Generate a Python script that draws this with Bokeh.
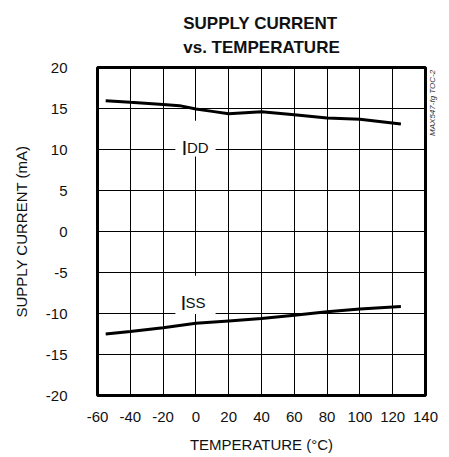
from bokeh.plotting import figure
from bokeh.models import Range1d, FixedTicker, Label, BoxAnnotation, LinearAxis
from bokeh.embed import file_html
from bokeh.resources import INLINE

# ---- data ----
temp_idd = [-55, -40, -20, -10, 0, 10, 20, 40, 60, 80, 100, 125]
idd_ma = [15.95, 15.75, 15.5, 15.35, 14.95, 14.65, 14.35, 14.6, 14.25, 13.85, 13.7, 13.1]
temp_iss = [-55, -40, -20, 0, 20, 40, 60, 80, 100, 125]
iss_ma = [-12.5, -12.2, -11.75, -11.2, -10.9, -10.6, -10.2, -9.8, -9.45, -9.15]
x_ticks = [-60, -40, -20, 0, 20, 40, 60, 80, 100, 120, 140]
y_ticks = [-20, -15, -10, -5, 0, 5, 10, 15, 20]

FONT = "Liberation Sans"
INK = "#111111"

p = figure(width=449, height=457, output_backend="svg", toolbar_location=None,
           x_range=Range1d(-60, 140), y_range=Range1d(-20, 20),
           min_border_left=97, min_border_right=24, min_border_top=67, min_border_bottom=62)
p.background_fill_color = "white"
p.border_fill_color = "white"
p.outline_line_color = "black"
p.outline_line_width = 3

# two-line title
p.title.text = "SUPPLY CURRENT\nvs. TEMPERATURE"
p.title.align = "center"
p.title.vertical_align = "top"
p.title.text_font = FONT
p.title.text_font_size = "17px"
p.title.text_font_style = "bold"
p.title.text_color = INK
p.title.text_line_height = 1.27
p.title.standoff = 18

for ax in (p.xaxis, p.yaxis):
    ax.major_tick_line_color = None
    ax.minor_tick_line_color = None
    ax.axis_line_color = None
    ax.major_label_text_font = FONT
    ax.major_label_text_font_size = "15px"
    ax.major_label_text_color = INK
    ax.axis_label_text_font = FONT
    ax.axis_label_text_font_size = "15px"
    ax.axis_label_text_font_style = "normal"
    ax.axis_label_text_color = INK

p.xaxis.ticker = FixedTicker(ticks=x_ticks)
p.yaxis.ticker = FixedTicker(ticks=y_ticks)
p.xaxis.major_label_overrides = {t: str(t) for t in x_ticks}
p.yaxis.major_label_overrides = {t: str(t) for t in y_ticks}
p.xaxis.major_label_standoff = 10
p.yaxis.major_label_standoff = 24
p.yaxis.axis_label = "SUPPLY CURRENT (mA)"
p.yaxis.axis_label_standoff = 13
p.xaxis.axis_label = "TEMPERATURE (°C)"
p.xaxis.axis_label_standoff = 11

# side note as label of a bare right axis (padded to sit near the top)
note_text = "\u00a0" * 43 + "MAX547-fg TOC-2"
note_axis = LinearAxis(ticker=FixedTicker(ticks=[]), axis_line_color=None,
                       major_tick_line_color=None, minor_tick_line_color=None,
                       major_label_text_font_size="0px",
                       axis_label=note_text, axis_label_text_font=FONT,
                       axis_label_text_font_size="8px", axis_label_text_color="#333333",
                       axis_label_standoff=7, axis_label_orientation=1.5708)
p.add_layout(note_axis, "right")

p.xgrid.ticker = FixedTicker(ticks=x_ticks)
p.ygrid.ticker = FixedTicker(ticks=y_ticks)
for g in (p.xgrid, p.ygrid):
    g.grid_line_color = "black"
    g.grid_line_alpha = 1.0
    g.grid_line_width = 1

p.line(temp_idd, idd_ma, line_color="black", line_width=3)
p.line(temp_iss, iss_ma, line_color="black", line_width=3)

# white boxes behind curve labels
p.add_layout(BoxAnnotation(left=-12.5, right=12, bottom=9.15, top=13.5,
                           fill_color="white", fill_alpha=1.0, line_alpha=0))
p.add_layout(BoxAnnotation(left=-12.5, right=12, bottom=-10.05, top=-5.4,
                           fill_color="white", fill_alpha=1.0, line_alpha=0))

# curve labels
for main_x, sub_x, base_y, sub in [(-8.8, -5.5, 10.28, "DD"), (-9.4, -6.4, -8.62, "SS")]:
    p.add_layout(Label(x=main_x, y=base_y, text="I", text_font=FONT, text_font_size="21px",
                       text_color=INK, text_baseline="alphabetic", text_align="left"))
    p.add_layout(Label(x=sub_x, y=base_y, text=sub, text_font=FONT, text_font_size="15px",
                       text_color=INK, text_baseline="alphabetic", text_align="left"))

open("out.html", "w").write(file_html(p, INLINE))
